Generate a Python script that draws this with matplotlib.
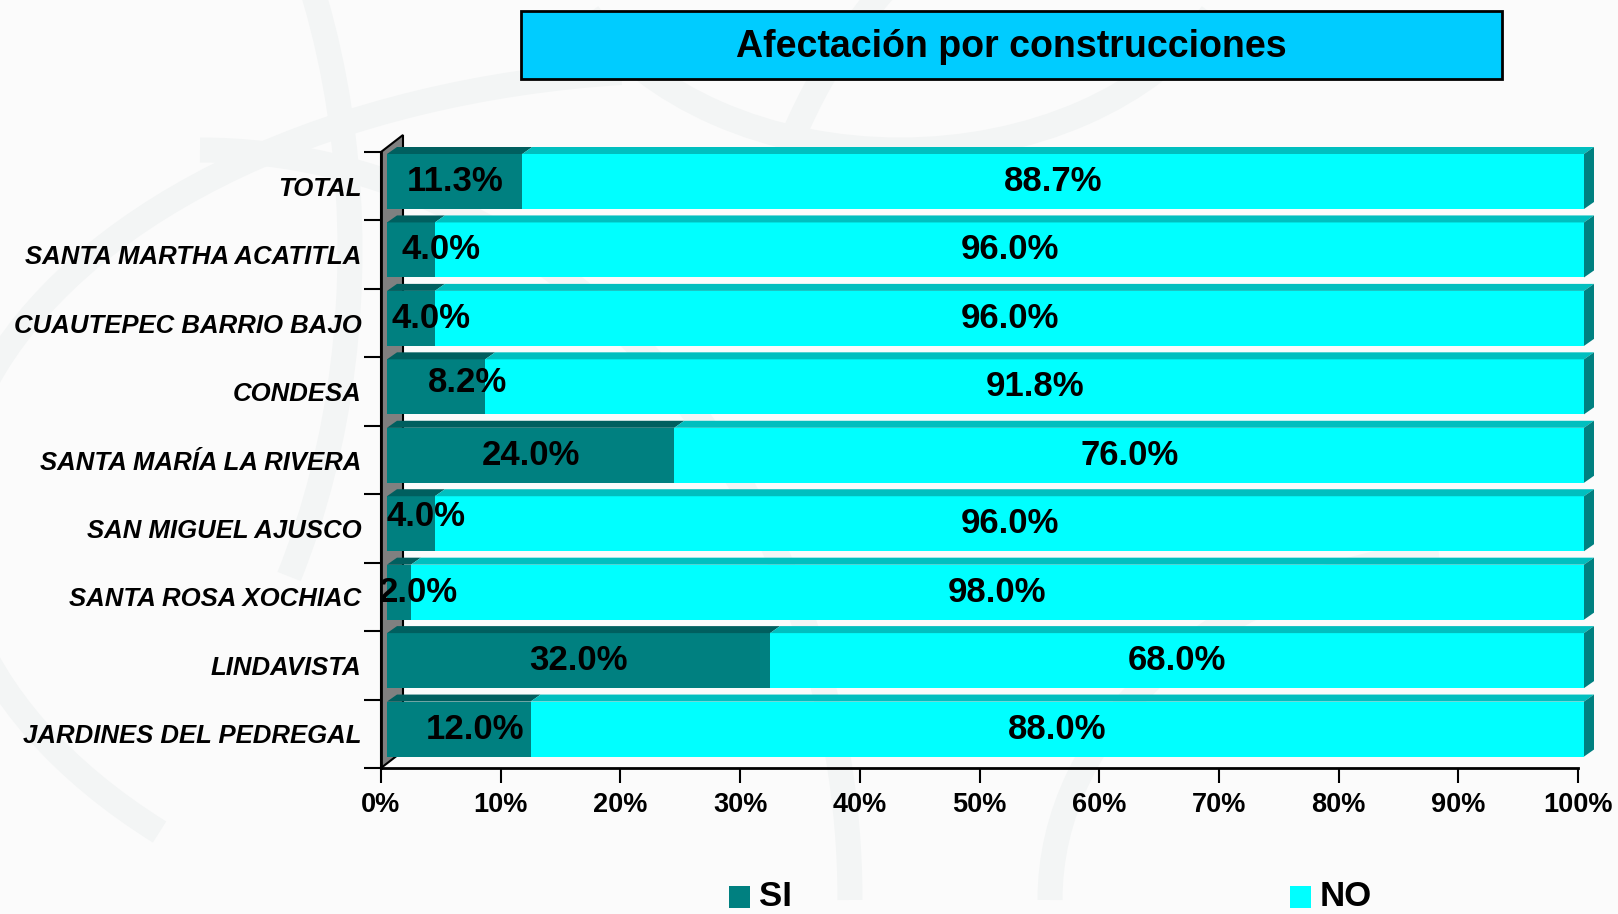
import matplotlib
matplotlib.use('Agg')
import matplotlib.pyplot as plt
from matplotlib.patches import Polygon, Rectangle, Arc

plt.rcParams['font.family'] = ['Liberation Sans', 'DejaVu Sans']

# survey results, % of households affected by nearby construction
colonias = ['TOTAL', 'SANTA MARTHA ACATITLA', 'CUAUTEPEC BARRIO BAJO', 'CONDESA',
            'SANTA MARÍA LA RIVERA', 'SAN MIGUEL AJUSCO', 'SANTA ROSA XOCHIAC',
            'LINDAVISTA', 'JARDINES DEL PEDREGAL']
si = [11.3, 4.0, 4.0, 8.2, 24.0, 4.0, 2.0, 32.0, 12.0]
no = [88.7, 96.0, 96.0, 91.8, 76.0, 96.0, 98.0, 68.0, 88.0]
xticks = [0, 10, 20, 30, 40, 50, 60, 70, 80, 90, 100]

# hand-placed label shifts (pixels) for the small SI segments
si_nudge_x = [0, 30, 20, 31, 0, 15, 19, 0, 16]
si_nudge_y = [0, 0, 0, 4, 0, 7, 0, 0, 0]

c_si, c_si_top = '#008080', '#005f5f'
c_no, c_no_top = '#00ffff', '#00bfbf'

W, H = 1618, 914
fig = plt.figure(figsize=(W / 100, H / 100), dpi=100, facecolor='#fbfbfb')

# faint watermark swirls in the background
bg = fig.add_axes([0, 0, 1, 1], zorder=-5)
bg.set_xlim(0, W)
bg.set_ylim(H, 0)
bg.axis('off')
for (cx, cy, w, h, a1, a2) in [(700, 520, 1500, 900, 150, 260), (200, 900, 1300, 1500, 270, 360),
                               (1300, 350, 1100, 1100, 200, 300), (-100, 250, 900, 1300, 300, 400),
                               (1500, 900, 900, 700, 180, 260), (900, -100, 700, 500, 20, 160)]:
    bg.add_patch(Arc((cx, cy), w, h, theta1=a1, theta2=a2, color='#f3f5f5', lw=18))

# plot area
x0, x1, ytop, ybot = 381, 1578, 152, 768
ax = fig.add_axes([x0 / W, 1 - ybot / H, (x1 - x0) / W, (ybot - ytop) / H])
ax.set_facecolor('none')
n = len(colonias)
ax.set_xlim(0, 100)
ax.set_ylim(n - 0.5, -0.5)

px_x = (x1 - x0) / 100.0
px_y = (ybot - ytop) / n

# side wall
wdx, wdy = 22 / px_x, 17 / px_y
ax.add_patch(Polygon([(0, n - 0.5), (wdx, n - 0.5 - wdy), (wdx, -0.5 - wdy), (0, -0.5)],
                     closed=True, fc='#808080', ec='black', lw=1.5, clip_on=False, zorder=1))

# 3D bars
fx = 6 / px_x
ddx, ddy = 10 / px_x, 7 / px_y
for i in range(n):
    y0 = i - 0.5 + 2 / px_y
    y1 = i - 0.5 + 57 / px_y
    left = fx
    for val, cf, ct in [(si[i], c_si, c_si_top), (no[i], c_no, c_no_top)]:
        right = left + val
        ax.add_patch(Rectangle((left, y0), val, y1 - y0, fc=cf, ec='none', zorder=3, clip_on=False))
        ax.add_patch(Polygon([(left, y0), (right, y0), (right + ddx, y0 - ddy), (left + ddx, y0 - ddy)],
                             closed=True, fc=ct, ec='none', zorder=3, clip_on=False))
        left = right
    ax.add_patch(Polygon([(left, y0), (left + ddx, y0 - ddy), (left + ddx, y1 - ddy), (left, y1)],
                         closed=True, fc=c_si, ec='none', zorder=3, clip_on=False))

    yc = (y0 + y1) / 2
    ax.annotate(f'{si[i]:.1f}%', (fx + si[i] / 2, yc), xytext=(si_nudge_x[i] * 0.72, si_nudge_y[i] * 0.72),
                textcoords='offset points', ha='center', va='center',
                fontsize=25, fontweight='bold', zorder=5)
    ax.text(fx + si[i] + no[i] / 2, yc, f'{no[i]:.1f}%', ha='center', va='center',
            fontsize=25, fontweight='bold', zorder=5)

# axes styling
for s in ['top', 'right']:
    ax.spines[s].set_visible(False)
for s in ['left', 'bottom']:
    ax.spines[s].set_linewidth(2)
    ax.spines[s].set_zorder(4)

ax.set_xticks(xticks)
ax.set_xticklabels([f'{t}%' for t in xticks], fontsize=19.5, fontweight='bold')
ax.tick_params(axis='x', direction='out', length=11, width=1.5, pad=6)

ax.set_yticks(range(n))
ax.set_yticklabels(colonias, fontsize=18.5, fontweight='bold', fontstyle='italic')
ax.set_yticks([i - 0.5 for i in range(n + 1)], minor=True)
ax.tick_params(axis='y', which='major', length=0, pad=14)
ax.tick_params(axis='y', which='minor', direction='out', length=12, width=1.5)

# title box
fig.patches.append(Rectangle((521 / W, 1 - 79 / H), 981 / W, 68 / H, transform=fig.transFigure,
                             fc='#00ccff', ec='black', lw=2, zorder=2))
fig.text(1011 / W, 1 - 47 / H, 'Afectación por construcciones', ha='center', va='center',
         fontsize=27, fontweight='bold', zorder=3)

# legend along the bottom
for (lx, label, col) in [(729, 'SI', c_si), (1290, 'NO', c_no)]:
    fig.patches.append(Rectangle((lx / W, 1 - 908 / H), 21 / W, 22 / H, transform=fig.transFigure,
                                 fc=col, ec='none'))
    fig.text((lx + 30) / W, 1 - 896 / H, label, ha='left', va='center', fontsize=25, fontweight='bold')

fig.savefig('out.png', dpi=100, facecolor=fig.get_facecolor())
